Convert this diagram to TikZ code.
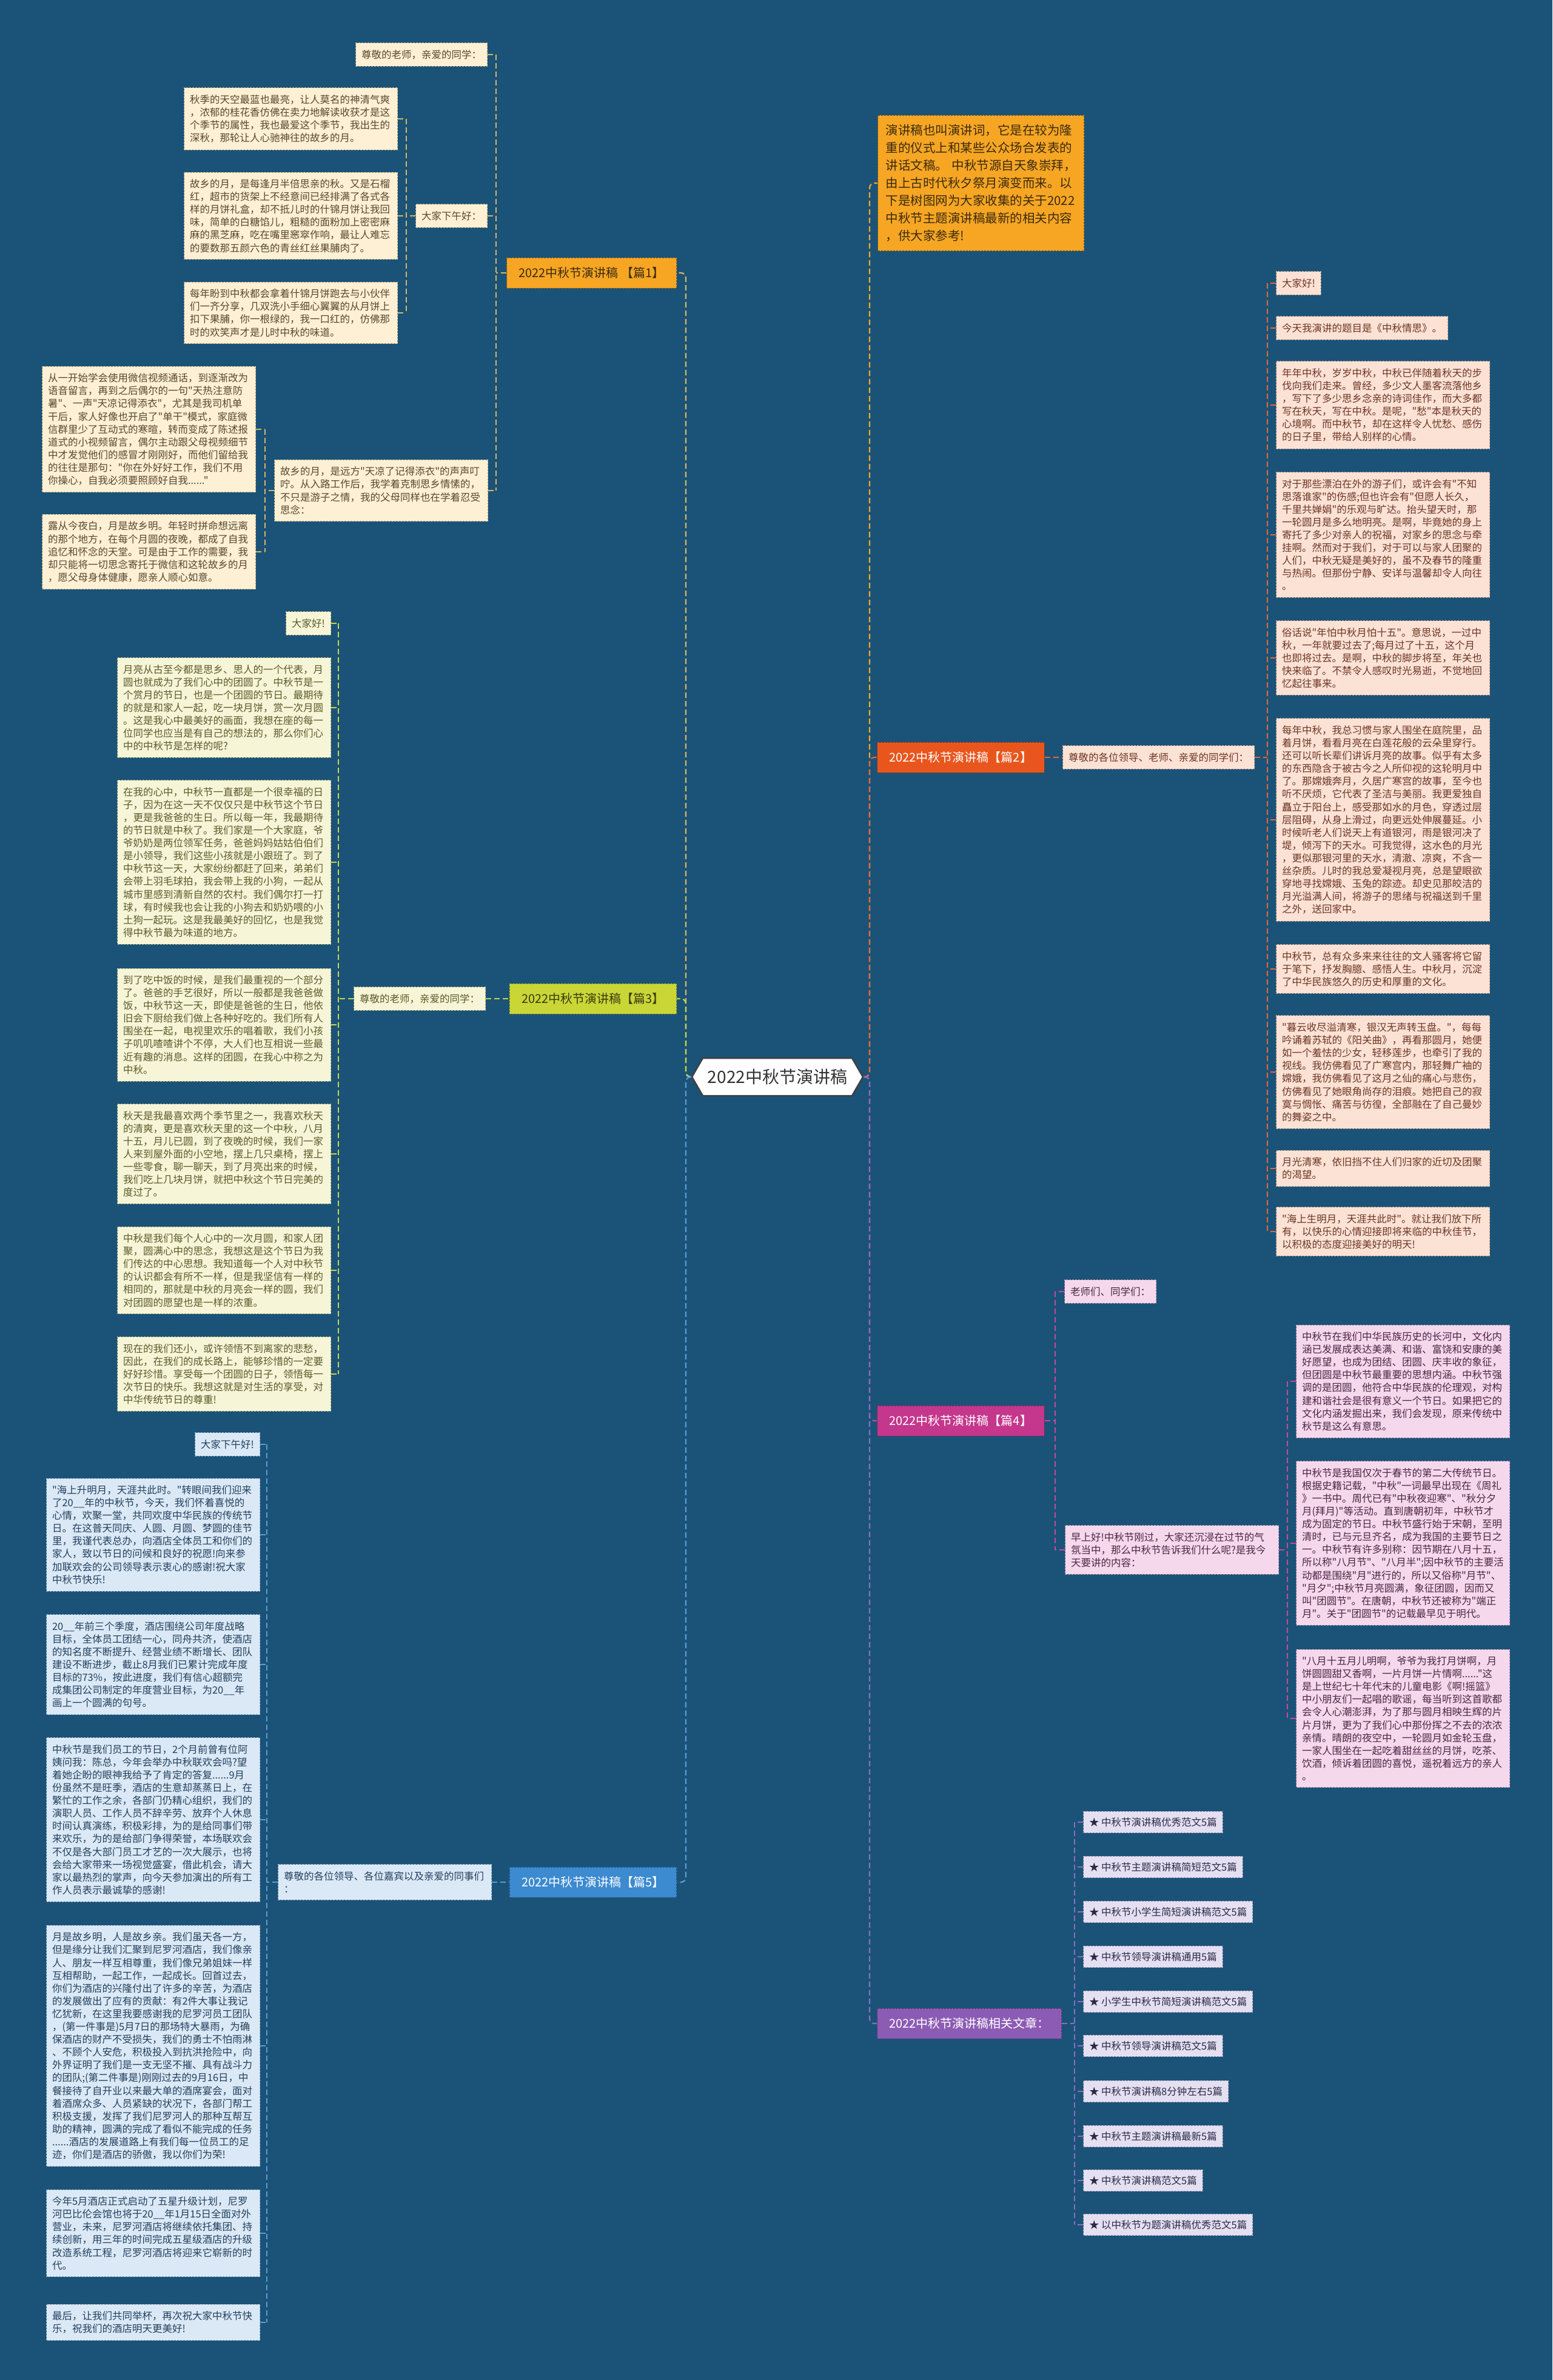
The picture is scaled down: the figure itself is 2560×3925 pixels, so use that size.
\documentclass[tikz,border=0pt]{standalone}
\usepackage{fontspec}
\setmainfont{Noto Sans CJK SC}
\newfontfamily\cjkf{Noto Sans CJK SC}
\usetikzlibrary{shapes.symbols}

\definecolor{bgc}{HTML}{1B5378}
\definecolor{fA}{HTML}{FDF0D5}\definecolor{dA}{HTML}{B8A178}\definecolor{tA}{HTML}{5A4630}\definecolor{kA}{HTML}{D9B560}\definecolor{bA}{HTML}{F6A623}\definecolor{btA}{HTML}{3A2A10}
\definecolor{fC}{HTML}{F7F5D8}\definecolor{dC}{HTML}{AFAE78}\definecolor{tC}{HTML}{5A5A28}\definecolor{kC}{HTML}{C8D44A}\definecolor{bC}{HTML}{C9D636}\definecolor{btC}{HTML}{3A3A10}
\definecolor{fE}{HTML}{DBE9F6}\definecolor{dE}{HTML}{8FA9C8}\definecolor{tE}{HTML}{223F5E}\definecolor{kE}{HTML}{5B9BD8}\definecolor{bE}{HTML}{3C8AD0}
\definecolor{fB}{HTML}{FCE2D4}\definecolor{dB}{HTML}{C09A88}\definecolor{tB}{HTML}{6B3525}\definecolor{kB}{HTML}{E8663A}\definecolor{bB}{HTML}{E9561D}
\definecolor{fD}{HTML}{F6D8EC}\definecolor{dD}{HTML}{B88AAA}\definecolor{tD}{HTML}{4A2644}\definecolor{kD}{HTML}{C8489A}\definecolor{bD}{HTML}{C4378C}
\definecolor{fF}{HTML}{E5E0F1}\definecolor{dF}{HTML}{9A94B8}\definecolor{tF}{HTML}{2A2A48}\definecolor{kF}{HTML}{8E6CC0}\definecolor{bF}{HTML}{8C5CB4}

\newcommand{\myPF}{\cjkf\fontsize{16.5}{21.1}\selectfont}
\newcommand{\myBF}{\cjkf\fontsize{20}{24}\selectfont}

\tikzset{
 boxbase/.style={draw, dashed, dash pattern=on 3pt off 2pt, line width=1pt, align=left, inner xsep=9.5pt, inner ysep=11.5pt, font=\myPF},
 para/.style={text width=333pt},
 sA/.style={boxbase, fill=fA, draw=dA, text=tA},
 sC/.style={boxbase, fill=fC, draw=dC, text=tC},
 sE/.style={boxbase, fill=fE, draw=dE, text=tE},
 sB/.style={boxbase, fill=fB, draw=dB, text=tB},
 sD/.style={boxbase, fill=fD, draw=dD, text=tD},
 sF/.style={boxbase, fill=fF, draw=dF, text=tF, inner ysep=10pt},
 brbox/.style={draw, dashed, dash pattern=on 3pt off 2pt, line width=1pt, font=\myBF, minimum height=50pt, inner xsep=20pt},
 con/.style={dashed, dash pattern=on 9pt off 5pt, line width=2.2pt, rounded corners=8pt},
 cA/.style={con, draw=kA}, cC/.style={con, draw=kC}, cE/.style={con, draw=kE},
 cB/.style={con, draw=kB}, cD/.style={con, draw=kD}, cF/.style={con, draw=kF},
 cI/.style={con, draw=bA},
 rootbox/.style={signal, signal to=west and east, signal pointer angle=120, fill=white, draw=black!75, line width=2.5pt, font=\cjkf\fontsize{28}{34}\selectfont, text=black!80, minimum width=273pt, minimum height=62pt, inner xsep=8pt}
}

\begin{document}
\begin{tikzpicture}[x=1pt,y=-1pt]
\useasboundingbox (0,0) rectangle (2560,3925);
\fill[bgc] (0,0) rectangle (2560,3925);

\coordinate (SL) at (1131,0);
\coordinate (SR) at (1434,0);
\coordinate (S1) at (818,0);
\coordinate (S1b) at (670,0);
\coordinate (S1c) at (437,0);
\coordinate (S3) at (558,0);
\coordinate (S5) at (440,0);
\coordinate (S2) at (2090,0);
\coordinate (S4) at (1740,0);
\coordinate (S4b) at (2123,0);
\coordinate (S6) at (1772,0);

% root
\node[rootbox] (root) at (1282,1776) {2022中秋节演讲稿};

% ---------- branch 1
\node[brbox, fill=bA, draw=bA!60!black, text=btA, anchor=east] (b1) at (1116,450) {2022中秋节演讲稿 【篇1】};
\node[sA, anchor=east] (a1) at (804,90) {尊敬的老师，亲爱的同学：};
\node[sA, anchor=east] (a2) at (804,356) {大家下午好：};
\node[sA, para, anchor=east] (a3) at (805,809) {故乡的月，是远方"天凉了记得添衣"的声声叮\\咛。从入路工作后，我学着克制思乡情愫的，\\不只是游子之情，我的父母同样也在学着忍受\\思念：};
\node[sA, para, anchor=east] (a21) at (656,196) {秋季的天空最蓝也最亮，让人莫名的神清气爽\\，浓郁的桂花香仿佛在卖力地解读收获才是这\\个季节的属性，我也最爱这个季节，我出生的\\深秋，那轮让人心驰神往的故乡的月。};
\node[sA, para, anchor=east] (a22) at (656,356) {故乡的月，是每逢月半倍思亲的秋。又是石榴\\红，超市的货架上不经意间已经排满了各式各\\样的月饼礼盒，却不抵儿时的什锦月饼让我回\\味，简单的白糖馅儿，粗糙的面粉加上密密麻\\麻的黑芝麻，吃在嘴里窸窣作响，最让人难忘\\的要数那五颜六色的青丝红丝果脯肉了。};
\node[sA, para, anchor=east] (a23) at (656,516) {每年盼到中秋都会拿着什锦月饼跑去与小伙伴\\们一齐分享，几双洗小手细心翼翼的从月饼上\\扣下果脯，你一根绿的，我一口红的，仿佛那\\时的欢笑声才是儿时中秋的味道。};
\node[sA, para, anchor=east] (a31) at (422,708) {从一开始学会使用微信视频通话，到逐渐改为\\语音留言，再到之后偶尔的一句"天热注意防\\暑"、一声"天凉记得添衣"，尤其是我司机单\\干后，家人好像也开启了"单干"模式，家庭微\\信群里少了互动式的寒暄，转而变成了陈述报\\道式的小视频留言，偶尔主动跟父母视频细节\\中才发觉他们的感冒才刚刚好，而他们留给我\\的往往是那句："你在外好好工作，我们不用\\你操心，自我必须要照顾好自我......"};
\node[sA, para, anchor=east] (a32) at (422,910) {露从今夜白，月是故乡明。年轻时拼命想远离\\的那个地方，在每个月圆的夜晚，都成了自我\\追忆和怀念的天堂。可是由于工作的需要，我\\却只能将一切思念寄托于微信和这轮故乡的月\\，愿父母身体健康，愿亲人顺心如意。};

\draw[cA] (b1.west) -- (b1.west -| S1);
\draw[cA] (a1.east -| S1) -- (a3.east -| S1);
\draw[cA] (a1.east) -- (a1.east -| S1);
\draw[cA] (a2.east) -- (a2.east -| S1);
\draw[cA] (a3.east) -- (a3.east -| S1);
\draw[cA] (a2.west) -- (a2.west -| S1b);
\draw[cA] (a21.east -| S1b) -- (a23.east -| S1b);
\draw[cA] (a21.east) -- (a21.east -| S1b);
\draw[cA] (a22.east) -- (a22.east -| S1b);
\draw[cA] (a23.east) -- (a23.east -| S1b);
\draw[cA] (a3.west) -- (a3.west -| S1c);
\draw[cA] (a31.east -| S1c) -- (a32.east -| S1c);
\draw[cA] (a31.east) -- (a31.east -| S1c);
\draw[cA] (a32.east) -- (a32.east -| S1c);

% ---------- branch 3
\node[brbox, fill=bC, draw=bC!60!black, text=btC, anchor=east] (b3) at (1116,1647) {2022中秋节演讲稿【篇3】};
\node[sC, anchor=east] (c0) at (801,1647) {尊敬的老师，亲爱的同学：};
\node[sC, anchor=east] (c1) at (546,1028) {大家好!};
\node[sC, para, anchor=east] (c2) at (546,1167) {月亮从古至今都是思乡、思人的一个代表，月\\圆也就成为了我们心中的团圆了。中秋节是一\\个赏月的节日，也是一个团圆的节日。最期待\\的就是和家人一起，吃一块月饼，赏一次月圆\\。这是我心中最美好的画面，我想在座的每一\\位同学也应当是有自己的想法的，那么你们心\\中的中秋节是怎样的呢?};
\node[sC, para, anchor=east] (c3) at (546,1422) {在我的心中，中秋节一直都是一个很幸福的日\\子，因为在这一天不仅仅只是中秋节这个节日\\，更是我爸爸的生日。所以每一年，我最期待\\的节日就是中秋了。我们家是一个大家庭，爷\\爷奶奶是两位领军任务，爸爸妈妈姑姑伯伯们\\是小领导，我们这些小孩就是小跟班了。到了\\中秋节这一天，大家纷纷都赶了回来，弟弟们\\会带上羽毛球拍，我会带上我的小狗，一起从\\城市里感到清新自然的农村。我们偶尔打一打\\球，有时候我也会让我的小狗去和奶奶喂的小\\土狗一起玩。这是我最美好的回忆，也是我觉\\得中秋节最为味道的地方。};
\node[sC, para, anchor=east] (c4) at (546,1690) {到了吃中饭的时候，是我们最重视的一个部分\\了。爸爸的手艺很好，所以一般都是我爸爸做\\饭，中秋节这一天，即使是爸爸的生日，他依\\旧会下厨给我们做上各种好吃的。我们所有人\\围坐在一起，电视里欢乐的唱着歌，我们小孩\\子叽叽喳喳讲个不停，大人们也互相说一些最\\近有趣的消息。这样的团圆，在我心中称之为\\中秋。};
\node[sC, para, anchor=east] (c5) at (546,1903) {秋天是我最喜欢两个季节里之一，我喜欢秋天\\的清爽，更是喜欢秋天里的这一个中秋，八月\\十五，月儿已圆，到了夜晚的时候，我们一家\\人来到屋外面的小空地，摆上几只桌椅，摆上\\一些零食，聊一聊天，到了月亮出来的时候，\\我们吃上几块月饼，就把中秋这个节日完美的\\度过了。};
\node[sC, para, anchor=east] (c6) at (546,2095) {中秋是我们每个人心中的一次月圆，和家人团\\聚，圆满心中的思念，我想这是这个节日为我\\们传达的中心思想。我知道每一个人对中秋节\\的认识都会有所不一样，但是我坚信有一样的\\相同的，那就是中秋的月亮会一样的圆，我们\\对团圆的愿望也是一样的浓重。};
\node[sC, para, anchor=east] (c7) at (546,2266) {现在的我们还小，或许领悟不到离家的悲愁，\\因此，在我们的成长路上，能够珍惜的一定要\\好好珍惜。享受每一个团圆的日子，领悟每一\\次节日的快乐。我想这就是对生活的享受，对\\中华传统节日的尊重!};

\draw[cC] (c0.east) -- (b3.west);
\draw[cC] (c0.west) -- (c0.west -| S3);
\draw[cC] (c1.east -| S3) -- (c7.east -| S3);
\foreach \n in {c1,c2,c3,c4,c5,c6,c7} \draw[cC] (\n.east) -- (\n.east -| S3);

% ---------- branch 5
\node[brbox, fill=bE, draw=bE!60!black, text=white, anchor=east] (b5) at (1116,3104) {2022中秋节演讲稿【篇5】};
\node[sE, para, anchor=east] (e0) at (811,3104) {尊敬的各位领导、各位嘉宾以及亲爱的同事们\\：};
\node[sE, anchor=east] (e1) at (429,2382) {大家下午好!};
\node[sE, para, anchor=east] (e2) at (429,2531) {"海上升明月，天涯共此时。"转眼间我们迎来\\了20\_\_年的中秋节，今天，我们怀着喜悦的\\心情，欢聚一堂，共同欢度中华民族的传统节\\日。在这普天同庆、人圆、月圆、梦圆的佳节\\里，我谨代表总办，向酒店全体员工和你们的\\家人，致以节日的问候和良好的祝愿!向来参\\加联欢会的公司领导表示衷心的感谢!祝大家\\中秋节快乐!};
\node[sE, para, anchor=east] (e3) at (429,2745) {20\_\_年前三个季度，酒店围绕公司年度战略\\目标，全体员工团结一心，同舟共济，使酒店\\的知名度不断提升、经营业绩不断增长、团队\\建设不断进步，截止8月我们已累计完成年度\\目标的73\%，按此进度，我们有信心超额完\\成集团公司制定的年度营业目标，为20\_\_年\\画上一个圆满的句号。};
\node[sE, para, anchor=east] (e4) at (429,3001) {中秋节是我们员工的节日，2个月前曾有位阿\\姨问我：陈总，今年会举办中秋联欢会吗?望\\着她企盼的眼神我给予了肯定的答复......9月\\份虽然不是旺季，酒店的生意却蒸蒸日上，在\\繁忙的工作之余，各部门仍精心组织，我们的\\演职人员、工作人员不辞辛劳、放弃个人休息\\时间认真演练，积极彩排，为的是给同事们带\\来欢乐，为的是给部门争得荣誉，本场联欢会\\不仅是各大部门员工才艺的一次大展示，也将\\会给大家带来一场视觉盛宴，借此机会，请大\\家以最热烈的掌声，向今天参加演出的所有工\\作人员表示最诚挚的感谢!};
\node[sE, para, anchor=east] (e5) at (429,3374) {月是故乡明，人是故乡亲。我们虽天各一方，\\但是缘分让我们汇聚到尼罗河酒店，我们像亲\\人、朋友一样互相尊重，我们像兄弟姐妹一样\\互相帮助，一起工作，一起成长。回首过去，\\你们为酒店的兴隆付出了许多的辛苦，为酒店\\的发展做出了应有的贡献：有2件大事让我记\\忆犹新，在这里我要感谢我的尼罗河员工团队\\，(第一件事是)5月7日的那场特大暴雨，为确\\保酒店的财产不受损失，我们的勇士不怕雨淋\\、不顾个人安危，积极投入到抗洪抢险中，向\\外界证明了我们是一支无坚不摧、具有战斗力\\的团队;(第二件事是)刚刚过去的9月16日，中\\餐接待了自开业以来最大单的酒席宴会，面对\\着酒席众多、人员紧缺的状况下，各部门帮工\\积极支援，发挥了我们尼罗河人的那种互帮互\\助的精神，圆满的完成了看似不能完成的任务\\......酒店的发展道路上有我们每一位员工的足\\迹，你们是酒店的骄傲，我以你们为荣!};
\node[sE, para, anchor=east] (e6) at (429,3683) {今年5月酒店正式启动了五星升级计划，尼罗\\河巴比伦会馆也将于20\_\_年1月15日全面对外\\营业，未来，尼罗河酒店将继续依托集团、持\\续创新，用三年的时间完成五星级酒店的升级\\改造系统工程，尼罗河酒店将迎来它崭新的时\\代。};
\node[sE, para, anchor=east] (e7) at (429,3830) {最后，让我们共同举杯，再次祝大家中秋节快\\乐，祝我们的酒店明天更美好!};

\draw[cE] (e0.east) -- (b5.west);
\draw[cE] (e0.west) -- (e0.west -| S5);
\draw[cE] (e1.east -| S5) -- (e7.east -| S5);
\foreach \n in {e1,e2,e3,e4,e5,e6,e7} \draw[cE] (\n.east) -- (\n.east -| S5);

% ---------- root left connectors
\draw[cA] (root.west) -- (root.west -| SL) |- (b1.east);
\draw[cC] (root.west) -- (root.west -| SL) |- (b3.east);
\draw[cE] (root.west) -- (root.west -| SL) |- (b5.east);

% ---------- intro
\node[boxbase, fill=bA, draw=bA!55!black, text=btA, anchor=west, font=\cjkf\fontsize{20.5}{29}\selectfont, text width=314pt, inner xsep=13pt, inner ysep=15pt] (intro) at (1447,302) {演讲稿也叫演讲词，它是在较为隆\\重的仪式上和某些公众场合发表的\\讲话文稿。~中秋节源自天象崇拜，\\由上古时代秋夕祭月演变而来。以\\下是树图网为大家收集的关于2022\\中秋节主题演讲稿最新的相关内容\\，供大家参考!};

% ---------- branch 2
\node[brbox, fill=bB, draw=bB!60!black, text=white, anchor=west] (b2) at (1446,1249) {2022中秋节演讲稿【篇2】};
\node[sB, anchor=west] (r0) at (1752,1249) {尊敬的各位领导、老师、亲爱的同学们：};
\node[sB, anchor=west] (r1) at (2104,467) {大家好!};
\node[sB, anchor=west] (r2) at (2104,541) {今天我演讲的题目是《中秋情思》。};
\node[sB, para, anchor=west] (r3) at (2104,668) {年年中秋，岁岁中秋，中秋已伴随着秋天的步\\伐向我们走来。曾经，多少文人墨客流落他乡\\，写下了多少思乡念亲的诗词佳作，而大多都\\写在秋天，写在中秋。是呢，"愁"本是秋天的\\心境啊。而中秋节，却在这样令人忧愁、感伤\\的日子里，带给人别样的心情。};
\node[sB, para, anchor=west] (r4) at (2104,882) {对于那些漂泊在外的游子们，或许会有"不知\\思落谁家"的伤感;但也许会有"但愿人长久，\\千里共婵娟"的乐观与旷达。抬头望天时，那\\一轮圆月是多么地明亮。是啊，毕竟她的身上\\寄托了多少对亲人的祝福，对家乡的思念与牵\\挂啊。然而对于我们，对于可以与家人团聚的\\人们，中秋无疑是美好的，虽不及春节的隆重\\与热闹。但那份宁静、安详与温馨却令人向往\\。};
\node[sB, para, anchor=west] (r5) at (2104,1085) {俗话说"年怕中秋月怕十五"。意思说，一过中\\秋，一年就要过去了;每月过了十五，这个月\\也即将过去。是啊，中秋的脚步将至，年关也\\快来临了。不禁令人感叹时光易逝，不觉地回\\忆起往事来。};
\node[sB, para, anchor=west] (r6) at (2104,1352) {每年中秋，我总习惯与家人围坐在庭院里，品\\着月饼，看看月亮在白莲花般的云朵里穿行。\\还可以听长辈们讲诉月亮的故事。似乎有太多\\的东西隐含于被古今之人所仰视的这轮明月中\\了。那嫦娥奔月，久居广寒宫的故事，至今也\\听不厌烦，它代表了圣洁与美丽。我更爱独自\\矗立于阳台上，感受那如水的月色，穿透过层\\层阻碍，从身上滑过，向更远处伸展蔓延。小\\时候听老人们说天上有道银河，雨是银河决了\\堤，倾泻下的天水。可我觉得，这水色的月光\\，更似那银河里的天水，清澈、凉爽，不含一\\丝杂质。儿时的我总爱凝视月亮，总是望眼欲\\穿地寻找嫦娥、玉兔的踪迹。却史见那皎洁的\\月光溢满人间，将游子的思绪与祝福送到千里\\之外，送回家中。};
\node[sB, para, anchor=west] (r7) at (2104,1598) {中秋节，总有众多来来往往的文人骚客将它留\\于笔下，抒发胸臆、感悟人生。中秋月，沉淀\\了中华民族悠久的历史和厚重的文化。};
\node[sB, para, anchor=west] (r8) at (2104,1768) {"暮云收尽溢清寒，银汉无声转玉盘。"，每每\\吟诵着苏轼的《阳关曲》，再看那圆月，她便\\如一个羞怯的少女，轻移莲步，也牵引了我的\\视线。我仿佛看见了广寒宫内，那轻舞广袖的\\嫦娥，我仿佛看见了这月之仙的痛心与悲伤，\\仿佛看见了她眼角尚存的泪痕。她把自己的寂\\寞与惆怅、痛苦与彷徨，全部融在了自己曼妙\\的舞姿之中。};
\node[sB, para, anchor=west] (r9) at (2104,1927) {月光清寒，依旧挡不住人们归家的近切及团聚\\的渴望。};
\node[sB, para, anchor=west] (r10) at (2104,2031) {"海上生明月，天涯共此时"。就让我们放下所\\有，以快乐的心情迎接即将来临的中秋佳节，\\以积极的态度迎接美好的明天!};

\draw[cB] (b2.east) -- (r0.west);
\draw[cB] (r0.east) -- (r0.east -| S2);
\draw[cB] (r1.west -| S2) -- (r10.west -| S2);
\foreach \n in {r1,r2,r3,r4,r5,r6,r7,r8,r9,r10} \draw[cB] (\n.west) -- (\n.west -| S2);

% ---------- branch 4
\node[brbox, fill=bD, draw=bD!60!black, text=white, anchor=west] (b4) at (1446,2343) {2022中秋节演讲稿【篇4】};
\node[sD, anchor=west] (d1) at (1755,2130) {老师们、同学们：};
\node[sD, para, anchor=west] (d2) at (1756,2556) {早上好!中秋节刚过，大家还沉浸在过节的气\\氛当中，那么中秋节告诉我们什么呢?是我今\\天要讲的内容：};
\node[sD, para, anchor=west] (d21) at (2137,2278) {中秋节在我们中华民族历史的长河中，文化内\\涵已发展成表达美满、和谐、富饶和安康的美\\好愿望，也成为团结、团圆、庆丰收的象征，\\但团圆是中秋节最重要的思想内涵。中秋节强\\调的是团圆，他符合中华民族的伦理观，对构\\建和谐社会是很有意义一个节日。如果把它的\\文化内涵发掘出来，我们会发现，原来传统中\\秋节是这么有意思。};
\node[sD, para, anchor=west] (d22) at (2137,2545) {中秋节是我国仅次于春节的第二大传统节日。\\根据史籍记载，"中秋"一词最早出现在《周礼\\》一书中。周代已有"中秋夜迎寒"、"秋分夕\\月(拜月)"等活动。直到唐朝初年，中秋节才\\成为固定的节日。中秋节盛行始于宋朝，至明\\清时，已与元旦齐名，成为我国的主要节日之\\一。中秋节有许多别称：因节期在八月十五，\\所以称"八月节"、"八月半";因中秋节的主要活\\动都是围绕"月"进行的，所以又俗称"月节"、\\"月夕";中秋节月亮圆满，象征团圆，因而又\\叫"团圆节"。在唐朝，中秋节还被称为"端正\\月"。关于"团圆节"的记载最早见于明代。};
\node[sD, para, anchor=west] (d23) at (2137,2834) {"八月十五月儿明啊，爷爷为我打月饼啊，月\\饼圆圆甜又香啊，一片月饼一片情啊......"这\\是上世纪七十年代末的儿童电影《啊!摇篮》\\中小朋友们一起唱的歌谣，每当听到这首歌都\\会令人心潮澎湃，为了那与圆月相映生辉的片\\片月饼，更为了我们心中那份挥之不去的浓浓\\亲情。晴朗的夜空中，一轮圆月如金轮玉盘，\\一家人围坐在一起吃着甜丝丝的月饼，吃茶、\\饮酒，倾诉着团圆的喜悦，遥祝着远方的亲人\\。};

\draw[cD] (b4.east) -- (b4.east -| S4);
\draw[cD] (d1.west -| S4) -- (d2.west -| S4);
\draw[cD] (d1.west) -- (d1.west -| S4);
\draw[cD] (d2.west) -- (d2.west -| S4);
\draw[cD] (d2.east) -- (d2.east -| S4b);
\draw[cD] (d21.west -| S4b) -- (d23.west -| S4b);
\foreach \n in {d21,d22,d23} \draw[cD] (\n.west) -- (\n.west -| S4b);

% ---------- related
\node[brbox, fill=bF, draw=bF!60!black, text=white, anchor=west] (b6) at (1446,3337) {2022中秋节演讲稿相关文章：};
\node[sF, anchor=west] (f1) at (1786,3005) {★ 中秋节演讲稿优秀范文5篇};
\node[sF, anchor=west] (f2) at (1786,3079) {★ 中秋节主题演讲稿简短范文5篇};
\node[sF, anchor=west] (f3) at (1786,3153) {★ 中秋节小学生简短演讲稿范文5篇};
\node[sF, anchor=west] (f4) at (1786,3227) {★ 中秋节领导演讲稿通用5篇};
\node[sF, anchor=west] (f5) at (1786,3301) {★ 小学生中秋节简短演讲稿范文5篇};
\node[sF, anchor=west] (f6) at (1786,3374) {★ 中秋节领导演讲稿范文5篇};
\node[sF, anchor=west] (f7) at (1786,3449) {★ 中秋节演讲稿8分钟左右5篇};
\node[sF, anchor=west] (f8) at (1786,3523) {★ 中秋节主题演讲稿最新5篇};
\node[sF, anchor=west] (f9) at (1786,3596) {★ 中秋节演讲稿范文5篇};
\node[sF, anchor=west] (f10) at (1786,3669) {★ 以中秋节为题演讲稿优秀范文5篇};

\draw[cF] (b6.east) -- (b6.east -| S6);
\draw[cF] (f1.west -| S6) -- (f10.west -| S6);
\foreach \n in {f1,f2,f3,f4,f5,f6,f7,f8,f9,f10} \draw[cF] (\n.west) -- (\n.west -| S6);

% ---------- root right connectors
\draw[cI] (root.east) -- (root.east -| SR) |- (intro.west);
\draw[cB] (root.east) -- (root.east -| SR) |- (b2.west);
\draw[cD] (root.east) -- (root.east -| SR) |- (b4.west);
\draw[cF] (root.east) -- (root.east -| SR) |- (b6.west);

\end{tikzpicture}
\end{document}
